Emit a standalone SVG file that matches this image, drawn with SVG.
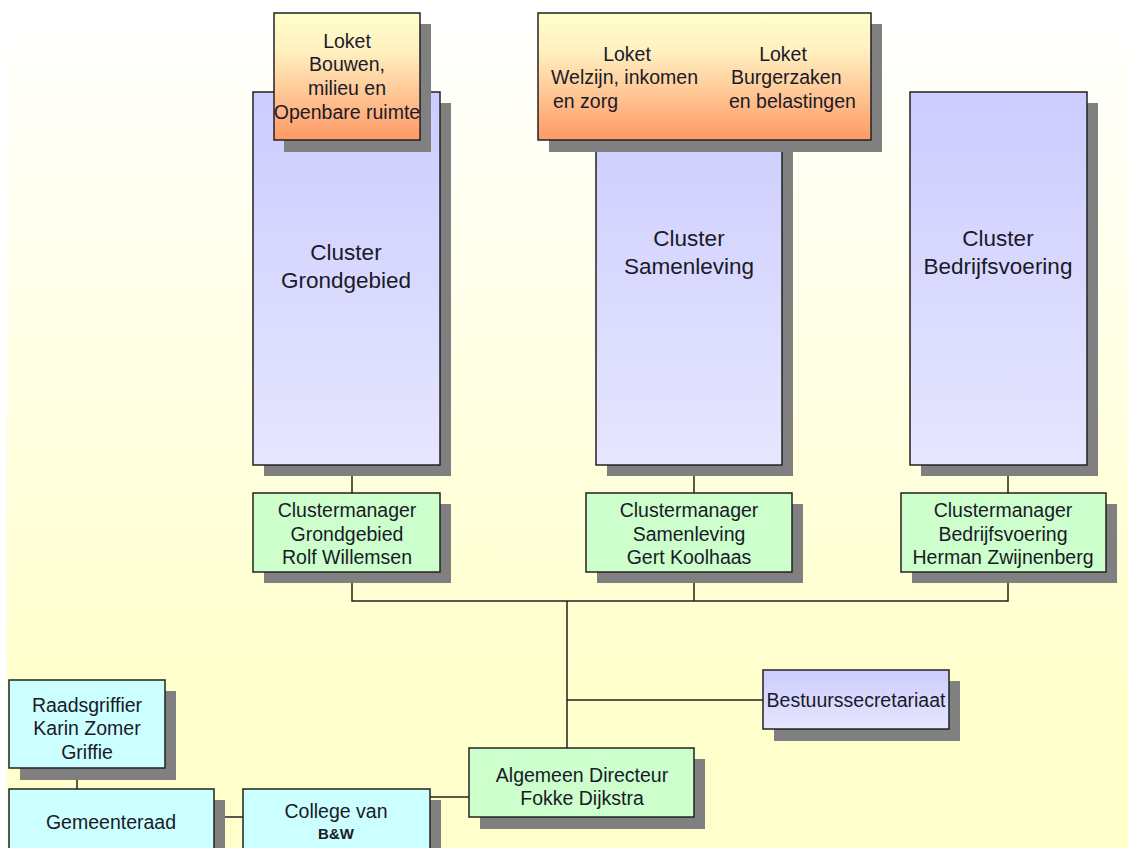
<svg xmlns="http://www.w3.org/2000/svg" width="1128" height="848" viewBox="0 0 1128 848">
<defs>
<linearGradient id="bg" x1="0" y1="0" x2="0" y2="1">
<stop offset="0" stop-color="#fffffe"/>
<stop offset="0.8" stop-color="#ffffcc"/>
<stop offset="1" stop-color="#ffffcc"/>
</linearGradient>
<linearGradient id="loket" x1="0" y1="0" x2="0" y2="1">
<stop offset="0" stop-color="#ffffcc"/>
<stop offset="0.3" stop-color="#fff0c0"/>
<stop offset="1" stop-color="#ff9966"/>
</linearGradient>
<linearGradient id="lav" x1="0" y1="0" x2="0" y2="1">
<stop offset="0" stop-color="#ccccff"/>
<stop offset="1" stop-color="#e6e6ff"/>
</linearGradient>
<style>
text{font-family:"Liberation Sans",Arial,sans-serif;fill:#1a1a28;text-anchor:middle}
.t{font-size:19.5px}
.c{font-size:22.5px}
.sh{fill:#808080}
.box{stroke:#222;stroke-width:1.5}
.lk{fill:url(#loket)}
.lv{fill:url(#lav)}
.gr{fill:#ccffcc}
.cy{fill:#ccffff}
.ln{stroke:#222;stroke-width:1.5;fill:none}
</style>
</defs>
<rect x="0" y="0" width="1128" height="848" fill="#ffffff"/>
<rect x="7" y="22" width="1121" height="826" fill="url(#bg)"/>

<g id="connectors">
<path class="ln" d="M352 465V493M694 465V493M1008 465V493"/>
<path class="ln" d="M352 572V601H1008V572M694 572V601"/>
<path class="ln" d="M567 601V748M567 700H763"/>
<path class="ln" d="M430 797H469M214 817H243M77 768V789"/>
</g>

<g id="cluster-grondgebied">
<rect class="sh" x="264" y="103" width="187" height="373"/>
<rect class="box lv" x="253" y="92" width="187" height="373"/>
<text class="c" x="346" y="260">Cluster</text>
<text class="c" x="346" y="288">Grondgebied</text>
</g>
<g id="cluster-samenleving">
<rect class="sh" x="607" y="103" width="186" height="373"/>
<rect class="box lv" x="596" y="92" width="186" height="373"/>
<text class="c" x="689" y="246">Cluster</text>
<text class="c" x="689" y="274">Samenleving</text>
</g>
<g id="cluster-bedrijfsvoering">
<rect class="sh" x="921" y="103" width="177" height="373"/>
<rect class="box lv" x="910" y="92" width="177" height="373"/>
<text class="c" x="998" y="246">Cluster</text>
<text class="c" x="998" y="274">Bedrijfsvoering</text>
</g>

<g id="loket-bouwen">
<rect class="sh" x="284" y="24" width="147" height="128"/>
<rect class="box lk" x="274" y="13" width="146" height="127"/>
<text class="t" x="347" y="48">Loket</text>
<text class="t" x="347" y="71">Bouwen,</text>
<text class="t" x="347" y="95">milieu en</text>
<text class="t" x="347" y="119">Openbare ruimte</text>
</g>
<g id="loket-welzijn-burgerzaken">
<rect class="sh" x="549" y="24" width="333" height="128"/>
<rect class="box lk" x="538" y="13" width="333" height="127"/>
<text class="t" x="627" y="61">Loket</text>
<text class="t" x="551" y="84" style="text-anchor:start">Welzijn, inkomen</text>
<text class="t" x="553" y="108" style="text-anchor:start">en zorg</text>
<text class="t" x="783" y="61">Loket</text>
<text class="t" x="731" y="84" style="text-anchor:start">Burgerzaken</text>
<text class="t" x="729" y="108" style="text-anchor:start">en belastingen</text>
</g>

<g id="cm-grondgebied">
<rect class="sh" x="264" y="504" width="187" height="79"/>
<rect class="box gr" x="253" y="493" width="187" height="79"/>
<text class="t" x="347" y="517">Clustermanager</text>
<text class="t" x="347" y="541">Grondgebied</text>
<text class="t" x="347" y="564">Rolf Willemsen</text>
</g>
<g id="cm-samenleving">
<rect class="sh" x="597" y="504" width="206" height="79"/>
<rect class="box gr" x="586" y="493" width="206" height="79"/>
<text class="t" x="689" y="517">Clustermanager</text>
<text class="t" x="689" y="541">Samenleving</text>
<text class="t" x="689" y="564">Gert Koolhaas</text>
</g>
<g id="cm-bedrijfsvoering">
<rect class="sh" x="912" y="504" width="205" height="79"/>
<rect class="box gr" x="901" y="493" width="205" height="79"/>
<text class="t" x="1003" y="517">Clustermanager</text>
<text class="t" x="1003" y="541">Bedrijfsvoering</text>
<text class="t" x="1003" y="564">Herman Zwijnenberg</text>
</g>

<g id="bestuurssecretariaat">
<rect class="sh" x="774" y="681" width="186" height="60"/>
<rect class="box lv" x="763" y="670" width="186" height="59"/>
<text class="t" x="856" y="707">Bestuurssecretariaat</text>
</g>

<g id="algemeen-directeur">
<rect class="sh" x="480" y="759" width="225" height="70"/>
<rect class="box gr" x="469" y="748" width="225" height="69"/>
<text class="t" x="582" y="782">Algemeen Directeur</text>
<text class="t" x="582" y="805">Fokke Dijkstra</text>
</g>

<g id="raadsgriffier">
<rect class="sh" x="20" y="691" width="156" height="89"/>
<rect class="box cy" x="9" y="680" width="156" height="88"/>
<text class="t" x="87" y="712">Raadsgriffier</text>
<text class="t" x="87" y="735">Karin Zomer</text>
<text class="t" x="87" y="759">Griffie</text>
</g>
<g id="gemeenteraad">
<rect class="sh" x="20" y="800" width="205" height="60"/>
<rect class="box cy" x="9" y="789" width="205" height="70"/>
<text class="t" x="111" y="829">Gemeenteraad</text>
</g>
<g id="college">
<rect class="sh" x="254" y="800" width="187" height="60"/>
<rect class="box cy" x="243" y="789" width="187" height="70"/>
<text class="t" x="336" y="818">College van</text>
<text x="336" y="839" style="font-size:15px;font-weight:bold">B&amp;W</text>
</g>
</svg>
